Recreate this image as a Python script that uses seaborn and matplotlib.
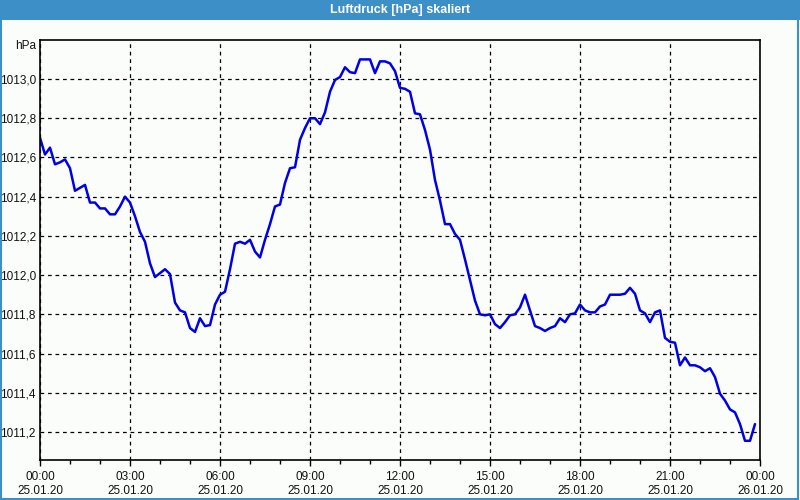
import numpy as np
import pandas as pd
import matplotlib
matplotlib.use("Agg")
import matplotlib.pyplot as plt
from matplotlib.ticker import FuncFormatter, MultipleLocator
from matplotlib.patches import Rectangle
import seaborn as sns

title = "Luftdruck [hPa] skaliert"
unit = "hPa"
# measurement every 10 minutes starting 25.01.20 00:00
start_time = "2020-01-25 00:00"
step_minutes = 10
pressure = [
    1012.70, 1012.615, 1012.65, 1012.565, 1012.575, 1012.59, 1012.545, 1012.43, 1012.445, 1012.46,
    1012.37, 1012.37, 1012.34, 1012.34, 1012.31, 1012.31, 1012.35, 1012.40, 1012.37, 1012.30,
    1012.22, 1012.17, 1012.06, 1011.99, 1012.01, 1012.03, 1012.005, 1011.86, 1011.82, 1011.81,
    1011.73, 1011.71, 1011.78, 1011.74, 1011.745, 1011.85, 1011.90, 1011.915, 1012.03, 1012.16,
    1012.17, 1012.16, 1012.18, 1012.12, 1012.09, 1012.18, 1012.26, 1012.35, 1012.36, 1012.47,
    1012.545, 1012.55, 1012.69, 1012.75, 1012.80, 1012.80, 1012.77, 1012.83, 1012.935, 1012.995,
    1013.01, 1013.06, 1013.035, 1013.03, 1013.10, 1013.10, 1013.10, 1013.03, 1013.09, 1013.09,
    1013.08, 1013.04, 1012.955, 1012.95, 1012.935, 1012.825, 1012.82, 1012.74, 1012.64, 1012.485,
    1012.38, 1012.26, 1012.26, 1012.21, 1012.18, 1012.08, 1011.975, 1011.87, 1011.80, 1011.795,
    1011.80, 1011.75, 1011.73, 1011.76, 1011.795, 1011.80, 1011.835, 1011.90, 1011.82, 1011.74,
    1011.73, 1011.715, 1011.73, 1011.74, 1011.78, 1011.76, 1011.80, 1011.805, 1011.85, 1011.82,
    1011.81, 1011.81, 1011.84, 1011.85, 1011.90, 1011.90, 1011.90, 1011.905, 1011.935, 1011.905,
    1011.82, 1011.805, 1011.76, 1011.81, 1011.82, 1011.68, 1011.66, 1011.655, 1011.54, 1011.58,
    1011.54, 1011.54, 1011.53, 1011.51, 1011.525, 1011.48, 1011.395, 1011.36, 1011.315, 1011.30,
    1011.24, 1011.155, 1011.155, 1011.24,
]
x_tick_hours = [0, 3, 6, 9, 12, 15, 18, 21, 24]
x_tick_labels = ["00:00\n25.01.20", "03:00\n25.01.20", "06:00\n25.01.20", "09:00\n25.01.20",
                 "12:00\n25.01.20", "15:00\n25.01.20", "18:00\n25.01.20", "21:00\n25.01.20",
                 "00:00\n26.01.20"]
y_ticks = [1011.2, 1011.4, 1011.6, 1011.8, 1012.0, 1012.2, 1012.4, 1012.6, 1012.8, 1013.0]

times = pd.date_range(start_time, periods=len(pressure), freq=f"{step_minutes}min")
hours = (times - times[0]).total_seconds() / 3600.0
df = pd.DataFrame({"hours": hours, "pressure": pressure})

sns.set_theme(style="white")
plt.rcParams["font.family"] = ["Liberation Sans", "DejaVu Sans"]

bg = "#fbfdfb"
bar_blue = "#3c8fc7"
fig = plt.figure(figsize=(8, 5), dpi=100, facecolor=bg)
ax = fig.add_axes([0.05, 0.08, 0.90, 0.84])
ax.set_facecolor(bg)

sns.lineplot(data=df, x="hours", y="pressure", ax=ax, color="#0000e6", linewidth=1.8)

ax.set_xlim(0, 24)
ax.set_ylim(1011.057, 1013.199)
ax.set_xticks(x_tick_hours)
ax.set_xticklabels(x_tick_labels, fontsize=8.5, color="#111111", linespacing=1.25)
ax.xaxis.set_minor_locator(MultipleLocator(1))
ax.set_yticks(y_ticks)
ax.yaxis.set_major_formatter(FuncFormatter(lambda v, p: f"{v:.1f}".replace(".", ",")))
ax.tick_params(axis="y", labelsize=8.5, colors="#111111", length=0, pad=3)
ax.tick_params(axis="x", which="major", direction="out", length=4, width=1, color="black",
               bottom=True, pad=4)
ax.tick_params(axis="x", which="minor", direction="out", length=3, width=1, color="black",
               bottom=True)
ax.set_xlabel("")
ax.set_ylabel("")
ax.grid(True, which="major", color="black", linestyle=(0, (3, 3)), linewidth=0.9)
for s in ax.spines.values():
    s.set_visible(True)
    s.set_color("black")
    s.set_linewidth(1.2)

# title bar and frame
fig.patches.append(Rectangle((0, 1 - 20 / 500), 1, 20 / 500, transform=fig.transFigure,
                             facecolor=bar_blue, edgecolor="none", zorder=0))
fig.patches.append(Rectangle((0.001, 0.002), 0.997, 0.996, transform=fig.transFigure,
                             facecolor="none", edgecolor=bar_blue, linewidth=1.5, zorder=5))
fig.text(0.5, 1 - 10 / 500, title, ha="center", va="center", color="white",
         fontsize=9, fontweight="bold")
fig.text(36 / 800, 1 - 46 / 500, unit, ha="right", va="center", fontsize=8.5, color="#111111")

fig.savefig("out.png", dpi=100, facecolor=bg)
